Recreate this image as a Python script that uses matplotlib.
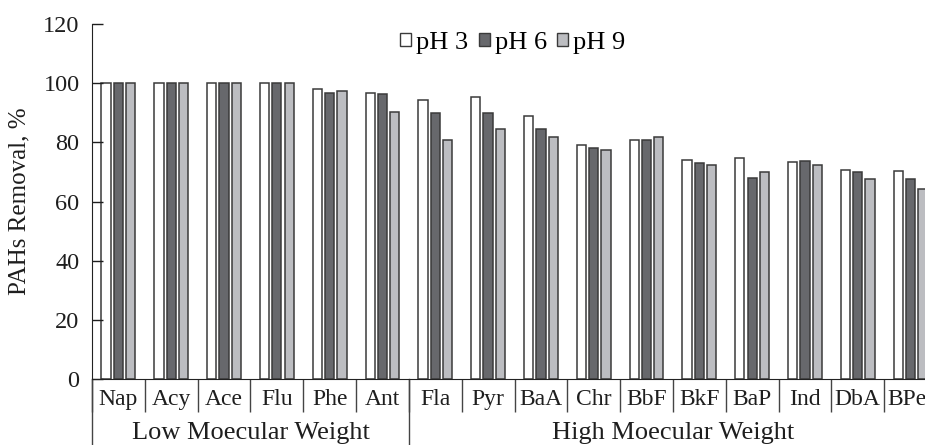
import numpy as np
import matplotlib.pyplot as plt
from matplotlib.patches import Patch

plt.rcParams['font.family'] = ['Liberation Serif', 'DejaVu Serif']

compounds = ['Nap', 'Acy', 'Ace', 'Flu', 'Phe', 'Ant', 'Fla', 'Pyr',
             'BaA', 'Chr', 'BbF', 'BkF', 'BaP', 'Ind', 'DbA', 'BPer']
ph3 = [100, 100, 100, 100, 97.9, 96.7, 94.4, 95.4, 88.9, 79.2, 80.9, 73.9, 74.8, 73.5, 70.7, 70.3]
ph6 = [100, 100, 100, 100, 96.6, 96.2, 89.8, 89.8, 84.5, 78.2, 80.9, 73.1, 68.0, 73.6, 70.1, 67.7]
ph9 = [100, 100, 100, 100, 97.4, 90.3, 80.8, 84.5, 81.7, 77.3, 81.8, 72.2, 69.9, 72.2, 67.5, 64.2]
series = ['pH 3', 'pH 6', 'pH 9']
groups = ['Low Moecular Weight', 'High Moecular Weight']
n_low = 6

fills = ['white', '#67686c', '#bcbdc1']
edge = '#3a3a3a'
txt = '#1e1e1e'

W, H = 925, 445
fig = plt.figure(figsize=(W / 100, H / 100), dpi=100)
x0, x1, y0, y1 = 92, 937, 379, 24
ax = fig.add_axes([x0 / W, (H - y0) / H, (x1 - x0) / W, (y0 - y1) / H])

x = np.arange(len(compounds)) + 0.5
bw = 0.176
step = 0.233
for i, vals in enumerate([ph3, ph6, ph9]):
    ax.bar(x + (i - 1) * step, vals, bw, color=fills[i], edgecolor=edge, linewidth=1.1)

ax.set_xlim(0, len(compounds))
ax.set_ylim(0, 120)
ax.set_yticks(range(0, 121, 20))
ax.tick_params(axis='y', direction='in', length=8, width=1, labelsize=17.5, pad=9, colors=txt)
ax.set_ylabel('PAHs Removal, %', fontsize=18, color=txt, labelpad=9)

ax.set_xticks(x)
ax.set_xticklabels(compounds)
ax.tick_params(axis='x', which='major', length=0, labelsize=17, pad=7, colors=txt)
ax.set_xticks(np.arange(len(compounds) + 1), minor=True)
ax.tick_params(axis='x', which='minor', direction='out', length=24, width=1, color='#444444')

for s in ['top', 'right']:
    ax.spines[s].set_visible(False)
ax.spines['left'].set_color('#222222')
ax.spines['bottom'].set_color('#222222')

# group separators and labels below the axis
tr = ax.get_xaxis_transform()
bottom = -(H - y0) / (y0 - y1)
for xs in [0, n_low]:
    ax.plot([xs, xs], [0, bottom], transform=tr, color='#444444', lw=1, clip_on=False)
ycap = -(433 - y0) / (y0 - y1)
ax.text(n_low / 2, ycap, groups[0], transform=tr, ha='center', va='center', fontsize=19, color=txt)
ax.text((n_low + len(compounds)) / 2, ycap, groups[1], transform=tr, ha='center', va='center', fontsize=19, color=txt)

handles = [Patch(facecolor=fills[i], edgecolor=edge, linewidth=1) for i in range(3)]
fig.legend(handles, series, loc='center', bbox_to_anchor=(513 / W, 1 - 43 / H), ncol=3, frameon=False,
           fontsize=19, handlelength=0.4, handleheight=0.4, handletextpad=0.2, columnspacing=0.4)

fig.savefig('out.png', dpi=100)
